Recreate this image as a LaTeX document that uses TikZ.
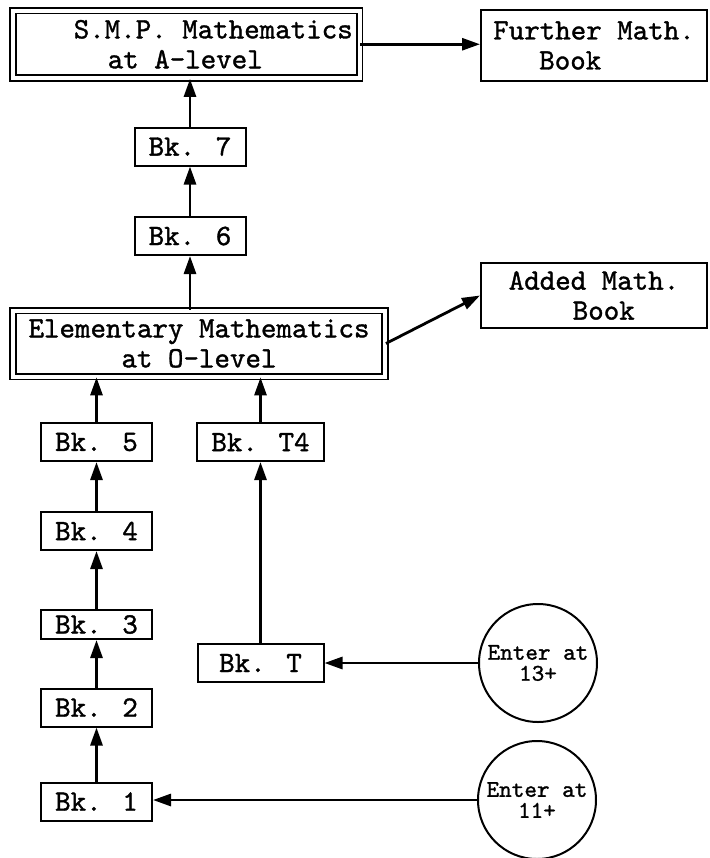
\documentclass[tikz,border=0pt]{standalone}
\usepackage{fontspec}
\newfontfamily\typer{lmmono10-regular.otf}[FakeBold=1.2]
\usetikzlibrary{arrows.meta}

\begin{document}
\begin{tikzpicture}[x=0.5pt, y=-0.5pt, >={Triangle[length=9pt,width=6pt]},
    every node/.style={font=\typer\fontsize{14.76}{15}\selectfont},
    bk/.style={draw, line width=1pt, inner sep=0pt, minimum width=55.5pt, minimum height=19pt},
    level/.style={draw, double, double distance=2pt, line width=0.9pt, inner sep=0pt},
    book/.style={draw, line width=1pt, inner sep=0pt, minimum width=113pt, align=left},
    entry/.style={draw, circle, line width=1pt, inner sep=0pt, minimum size=59pt, align=center,
        font=\typer\fontsize{12}{10.5}\selectfont},
    link/.style={->, line width=1.4pt}]

    % Khung hình (709 x 858)
    \useasboundingbox (0,0) rectangle (709,858);

    % Hai mức thi
    \node[level, minimum width=173.25pt, minimum height=33.75pt, align=left]
        (smp) at (186.25,44.25) {\hspace*{27pt}S.M.P. Mathematics\\\hspace*{44pt}at A-level};
    \node[level, minimum width=186pt, minimum height=33pt, align=center]
        (elem) at (199,343.5) {Elementary Mathematics\\at O-level};

    % Sách thêm
    \node[book, minimum height=35.5pt] (further) at (594,45.5) {Further Math.\\\hspace*{23pt}Book};
    \node[book, minimum height=32.5pt] (added) at (594,295.5) {Added Math.\\\hspace*{32pt}Book};

    % Các cuốn sách
    \node[bk] (bk7) at (190,146.5) {Bk. 7};
    \node[bk] (bk6) at (190,236) {Bk. 6};
    \node[bk] (bk5) at (96.5,442) {Bk. 5};
    \node[bk] (bk4) at (96.5,531) {Bk. 4};
    \node[bk, minimum height=14.5pt] (bk3) at (96.5,624.5) {Bk. 3};
    \node[bk] (bk2) at (96.5,707.5) {Bk. 2};
    \node[bk] (bk1) at (96.5,801.5) {Bk. 1};
    \node[bk, minimum width=63.5pt] (bkt4) at (260.5,442) {Bk. T4};
    \node[bk, minimum width=63pt] (bkt) at (260.5,663) {Bk. T};

    % Điểm vào
    \node[entry] (in13) at (538,663) {Enter at\\13+};
    \node[entry] (in11) at (537,800) {Enter at\\11+};

    % Mũi tên
    \draw[link] (bk1) -- (bk2);
    \draw[link] (bk2) -- (bk3);
    \draw[link] (bk3) -- (bk4);
    \draw[link] (bk4) -- (bk5);
    \draw[link] (bk5.north) -- (bk5.north |- elem.south);
    \draw[link] (bkt.north) -- (bkt4.south);
    \draw[link] (bkt4.north) -- (bkt4.north |- elem.south);
    \draw[link] (bk6.south |- elem.north) -- (bk6.south);
    \draw[link] (bk6) -- (bk7);
    \draw[link] (bk7.north) -- (bk7.north |- smp.south);
    \draw[link] (smp.east) -- (smp.east -| further.west);
    \draw[link] (elem.east) -- (added.west);
    \draw[link] (in13.west) -- (bkt.east);
    \draw[link] (in11.west) -- (in11.west -| bk1.east);

\end{tikzpicture}
\end{document}
